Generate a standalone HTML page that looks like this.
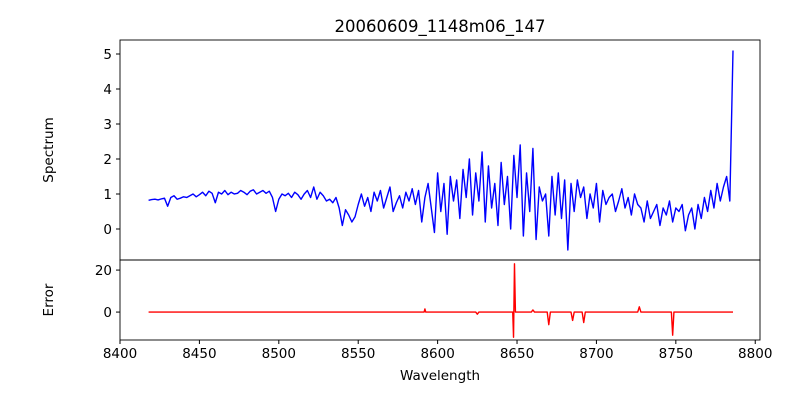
<!DOCTYPE html>
<html><head><meta charset="utf-8"><style>
body{margin:0;background:#fff}
svg{display:block;font-family:"DejaVu Sans","Liberation Sans",sans-serif}
</style></head><body>
<svg id="c" width="800" height="400" xmlns="http://www.w3.org/2000/svg">
<rect width="800" height="400" fill="#fff"/>
<text x="440" y="32" font-size="16.5" text-anchor="middle">20060609_1148m06_147</text>
<text transform="translate(53,150) rotate(-90)" font-size="13.5" text-anchor="middle">Spectrum</text>
<text transform="translate(53,300) rotate(-90)" font-size="13.5" text-anchor="middle">Error</text>
<text x="440" y="380" font-size="13.5" text-anchor="middle">Wavelength</text>
<g id="g"></g>
</svg>
<script>
const specStart = 8418, specStep = 2;
const specValues = [
0.82,0.84,0.85,0.83,0.86,0.88,0.65,0.9,0.95,0.85,0.88,0.92,
0.9,0.95,1.0,0.92,0.98,1.05,0.95,1.08,1.02,0.75,1.05,1.0,1.1,0.98,1.05,1.0,1.02,1.1,1.05,0.98,
1.08,1.12,1.0,1.05,1.1,1.02,1.08,0.9,0.5,0.85,1.0,0.95,1.02,0.9,1.05,0.98,0.85,1.0,1.1,0.9,
1.2,0.85,1.05,0.95,0.8,0.85,0.75,0.9,0.6,0.1,0.55,0.4,0.2,0.35,0.7,1.0,0.65,0.9,0.5,1.05,
0.8,1.1,0.6,0.9,1.2,0.5,0.75,0.95,0.6,1.05,0.8,1.15,0.7,1.1,0.2,0.9,1.3,0.6,-0.1,1.6,
0.5,1.3,-0.15,1.5,0.8,1.4,0.3,1.7,0.9,2.0,0.4,1.6,0.8,2.2,0.2,1.8,0.6,1.3,0.1,1.9,
0.7,1.5,0.0,2.1,0.9,2.4,-0.2,1.6,0.5,2.3,-0.3,1.2,0.8,1.0,-0.2,1.5,0.4,1.6,0.3,1.4,
-0.6,1.3,0.5,1.4,0.9,1.2,0.3,1.0,0.6,1.3,0.2,1.1,0.7,0.9,1.0,0.5,0.8,1.15,0.6,0.9,
0.4,1.0,0.7,0.6,0.2,0.8,0.3,0.5,0.7,0.1,0.6,0.4,0.8,0.2,0.6,0.5,0.7,-0.05,0.4,0.6,
0.0,0.7,0.3,0.9,0.5,1.1,0.6,1.3,0.8,1.2,1.5,0.8,5.1];
const errWave = [8418,8591.5,8592,8592.5,8624,8625,8626,8647.3,8647.8,8648.4,8649,8659,8660,8661,8669,8670,8671,8684,8685,8686,8691,8692,8693,8726,8727,8728,8747.2,8748,8748.8,8786];
const errValues = [0,0,1.5,0,0,-1,0,0,-12,23,0,0,1,0,0,-6,0,0,-4,0,0,-5,0,0,2.5,0,0,-11,0,0];
const xTicks = [8400,8450,8500,8550,8600,8650,8700,8750,8800];
const specTicks = [0,1,2,3,4,5];
const errTicks = [0,20];

const NS="http://www.w3.org/2000/svg", g=document.getElementById('g');
const L=120,R=760,T1=40,B1=260,T2=260,B2=340;
const xMin=8400,xMax=8803;
const xs=v=>L+(v-xMin)/(xMax-xMin)*(R-L);
const y1=v=>B1-(v+0.886)/(5.4+0.886)*(B1-T1);
const y2=v=>B2-(v+13.3)/(24.8+13.3)*(B2-T2);
function el(t,a,p){const e=document.createElementNS(NS,t);for(const k in a)e.setAttribute(k,a[k]);(p||g).appendChild(e);return e;}

let d=specValues.map((v,i)=>(i?'L':'M')+xs(specStart+i*specStep).toFixed(2)+','+y1(v).toFixed(2)).join('');
const sp=el('path',{d:d,fill:'none',stroke:'#0000ff','stroke-width':1.4,'stroke-linejoin':'round'});


d=errValues.map((v,i)=>(i?'L':'M')+xs(errWave[i]).toFixed(2)+','+y2(v).toFixed(2)).join('');
const ep=el('path',{d:d,fill:'none',stroke:'#ff0000','stroke-width':1.4,'stroke-linejoin':'round'});



const f1=el('rect',{x:L,y:T1,width:R-L,height:B1-T1,fill:'none',stroke:'#000','stroke-width':0.9});


const f2=el('rect',{x:L,y:T2,width:R-L,height:B2-T2,fill:'none',stroke:'#000','stroke-width':0.9});



xTicks.forEach(t=>{const x=xs(t);
 el('line',{x1:x,x2:x,y1:B2,y2:B2+4,stroke:'#000'});
 const tx=el('text',{x:x,y:B2+18,'font-size':13.5,'text-anchor':'middle'});tx.textContent=t;
 
 
});
specTicks.forEach(t=>{const y=y1(t);
 el('line',{x1:L-4,x2:L,y1:y,y2:y,stroke:'#000'});
 const tx=el('text',{x:L-8,y:y+5,'font-size':13.5,'text-anchor':'end'});tx.textContent=t;
 
 
});
errTicks.forEach(t=>{const y=y2(t);
 el('line',{x1:L-4,x2:L,y1:y,y2:y,stroke:'#000'});
 const tx=el('text',{x:L-8,y:y+5,'font-size':13.5,'text-anchor':'end'});tx.textContent=t;
 
 
});
</script>
</body></html>
